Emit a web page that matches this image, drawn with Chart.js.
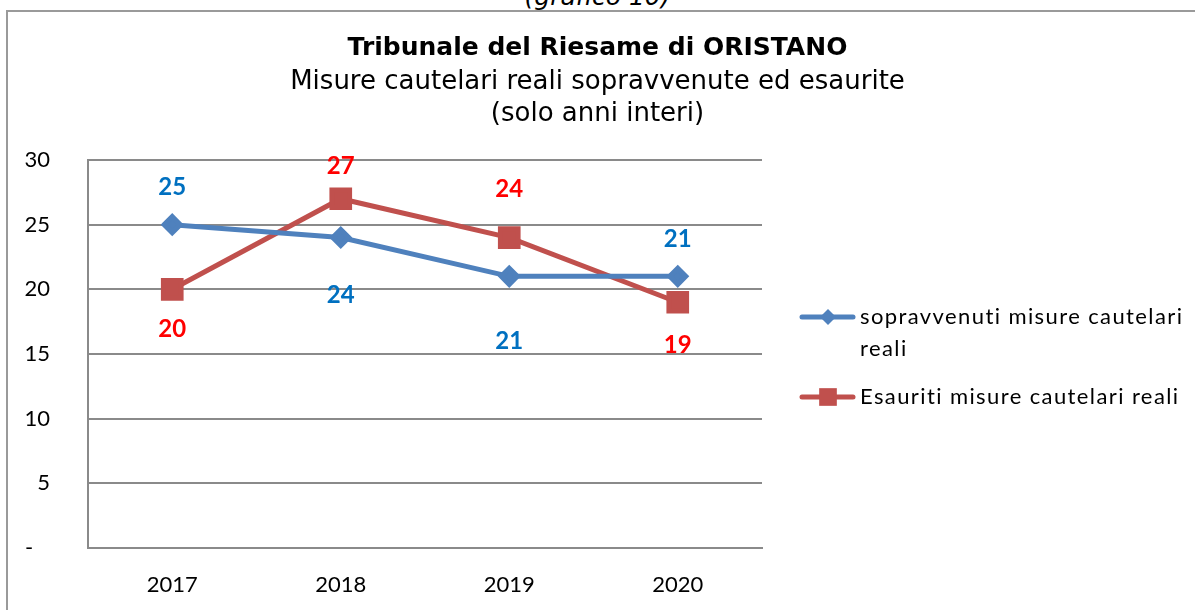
<!DOCTYPE html>
<html>
<head>
<meta charset="utf-8">
<script src="https://cdn.jsdelivr.net/npm/chart.js@4.4.1/dist/chart.umd.min.js"></script>
<style>
  html, body { margin: 0; padding: 0; background: #fff; }
  #wrap { position: relative; width: 1195px; height: 610px; overflow: hidden; }
  #caption {
    position: absolute; left: 0; width: 1195px; top: -18px; text-align: center;
    font: italic 25px "DejaVu Sans", sans-serif; color: #000;
  }
  #frame {
    position: absolute; left: 6px; top: 10px; width: 1200px; height: 620px;
    border-top: 2px solid #9a9a9a; border-left: 2px solid #9a9a9a;
  }
  #chartCanvas { position: absolute; left: 0; top: 0; }
</style>
</head>
<body>
<div id="wrap">
  <div id="caption">(grafico 10)</div>
  <div id="frame"></div>
  <canvas id="chartCanvas" width="1195" height="610"></canvas>
</div>
<script>
/* ====== DATA ====== */
const years = ['2017', '2018', '2019', '2020'];
const sopravvenuti = [25, 24, 21, 21];
const esauriti = [20, 27, 24, 19];
const yTicks = [0, 5, 10, 15, 20, 25, 30];

// vertical offset (px) of each value label from its point: negative = above
const sopravvenutiLabelOffset = [-37, 58, 65, -37];
const esauritiLabelOffset = [40, -32, -48, 43];

const COLOR_BLUE = '#4F81BD';
const COLOR_RED = '#C0504D';
const GRID = '#8a8a8a';
const LABEL_FONT = 'Lato, "Open Sans", sans-serif';
const TITLE_FONT = '"DejaVu Sans", sans-serif';

/**
 * Draw the value next to each point
 */
const valueLabels = {
  id: 'valueLabels',
  afterDatasetsDraw(chart) {
    const ctx = chart.ctx;
    ctx.save();
    ctx.font = 'bold 24px ' + LABEL_FONT;
    ctx.textAlign = 'center';
    ctx.textBaseline = 'middle';
    chart.data.datasets.forEach((ds, i) => {
      const meta = chart.getDatasetMeta(i);
      ctx.fillStyle = ds.labelColor;
      meta.data.forEach((pt, j) => {
        ctx.fillText(String(ds.data[j]), pt.x, pt.y + ds.labelOffset[j]);
      });
    });
    ctx.restore();
  }
};

/**
 * Legend on the right, with wrapped first entry
 */
const sideLegend = {
  id: 'sideLegend',
  afterDraw(chart) {
    const ctx = chart.ctx;
    const rows = [317, 397];
    ctx.save();
    chart.data.datasets.forEach((ds, i) => {
      const y = rows[i];
      ctx.strokeStyle = ds.borderColor;
      ctx.lineWidth = 5;
      ctx.lineCap = 'round';
      ctx.beginPath();
      ctx.moveTo(802, y);
      ctx.lineTo(853, y);
      ctx.stroke();
      ctx.fillStyle = ds.backgroundColor;
      Chart.helpers.drawPoint(ctx, { pointStyle: ds.pointStyle, radius: ds.pointRadius, borderWidth: 0 }, 828, y);
      ctx.fillStyle = '#000';
      ctx.font = '22px ' + LABEL_FONT;
      ctx.letterSpacing = '1.4px';
      ctx.textAlign = 'left';
      ctx.textBaseline = 'middle';
      ds.legendLines.forEach((line, k) => ctx.fillText(line, 860, y + k * 32));
      ctx.letterSpacing = '0px';
    });
    ctx.restore();
  }
};

const chart = new Chart(document.getElementById('chartCanvas').getContext('2d'), {
  type: 'line',
  data: {
    labels: years,
    datasets: [{
      label: 'sopravvenuti misure cautelari reali',
      legendLines: ['sopravvenuti misure cautelari', 'reali'],
      data: sopravvenuti,
      borderColor: COLOR_BLUE,
      backgroundColor: COLOR_BLUE,
      borderWidth: 5,
      pointStyle: 'rectRot',
      pointRadius: 8,
      pointHoverRadius: 8,
      labelColor: '#0070C0',
      labelOffset: sopravvenutiLabelOffset,
      tension: 0
    }, {
      label: 'Esauriti misure cautelari reali',
      legendLines: ['Esauriti misure cautelari reali'],
      data: esauriti,
      borderColor: COLOR_RED,
      backgroundColor: COLOR_RED,
      borderWidth: 5,
      pointStyle: 'rect',
      pointRadius: 12.5,
      pointHoverRadius: 12.5,
      labelColor: '#FF0000',
      labelOffset: esauritiLabelOffset,
      tension: 0
    }]
  },
  options: {
    responsive: false,
    animation: false,
    layout: { padding: 0 },
    plugins: {
      legend: { display: false },
      tooltip: { enabled: false },
      title: {
        display: true,
        text: 'Tribunale del Riesame di ORISTANO',
        color: '#000',
        font: { family: TITLE_FONT, size: 25, weight: 'bold', lineHeight: 1.2 },
        padding: { top: 33, bottom: 3 }
      },
      subtitle: {
        display: true,
        text: ['Misure cautelari reali sopravvenute ed esaurite', '(solo anni interi)'],
        color: '#000',
        font: { family: TITLE_FONT, size: 26, lineHeight: 1.23 },
        padding: { top: 0, bottom: 30 }
      }
    },
    scales: {
      x: {
        offset: true,
        grid: { display: false, drawTicks: false },
        border: { display: true, color: GRID, width: 2 },
        ticks: { color: '#000', font: { family: LABEL_FONT, size: 22 }, padding: 24 },
        afterFit(scale) { scale.height = 62; }
      },
      y: {
        min: 0,
        max: 30,
        afterBuildTicks(scale) { scale.ticks = yTicks.map(v => ({ value: v })); },
        grid: { color: GRID, lineWidth: 2, drawTicks: false },
        border: { display: true, color: GRID, width: 2 },
        ticks: {
          color: '#000',
          font: { family: LABEL_FONT, size: 22 },
          padding: 38,
          callback: v => v === 0 ? '-   ' : String(v)
        },
        afterFit(scale) { scale.width = 88; }
      },
      // empty right-hand box that keeps room for the legend
      legendSpace: {
        position: 'right',
        display: true,
        grid: { display: false, drawTicks: false },
        border: { display: false },
        ticks: { display: false },
        afterFit(scale) { scale.width = 433; }
      }
    }
  },
  plugins: [valueLabels, sideLegend]
});
</script>
</body>
</html>
